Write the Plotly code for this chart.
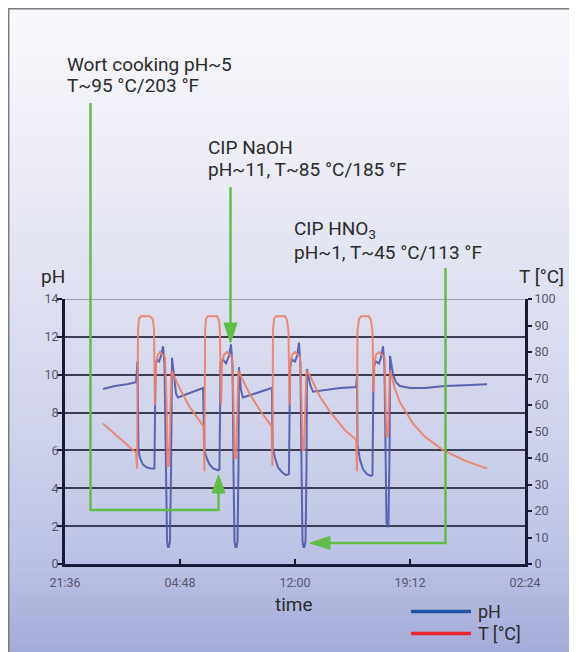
import plotly.graph_objects as go

# ---------------- data ----------------
tick_hours = [0, 7.2, 14.4, 21.6, 28.8]          # hours after 21:36
tick_labels = ["21:36", "04:48", "12:00", "19:12", "02:24"]
ph_ticks = [0, 2, 4, 6, 8, 10, 12, 14]
temp_ticks = [0, 10, 20, 30, 40, 50, 60, 70, 80, 90, 100]

ph_hours = [2.38, 3.13, 3.88, 4.45, 4.54, 4.60, 4.70, 4.88, 5.13, 5.38, 5.60,
            5.67, 5.76, 5.89, 6.01, 6.14, 6.23, 6.32, 6.39, 6.45, 6.51, 6.57,
            6.64, 6.70, 6.82, 6.95, 7.07, 7.51, 8.14, 8.64,
            8.73, 8.83, 9.02, 9.27, 9.58, 9.67, 9.74, 9.89, 10.08, 10.27, 10.39,
            10.49, 10.55, 10.61, 10.67, 10.74, 10.80, 10.86, 10.89, 11.02, 11.14,
            11.90, 12.52, 12.96,
            12.99, 13.15, 13.34, 13.59, 13.84, 14.02, 14.09, 14.21, 14.40, 14.53,
            14.65, 14.74, 14.81, 14.87, 14.93, 14.99, 15.06, 15.12, 15.15, 15.34,
            15.53, 16.28, 17.22, 18.22, 18.28,
            18.31, 18.47, 18.66, 18.91, 19.16, 19.25, 19.32, 19.47, 19.66, 19.78,
            19.91, 20.00, 20.07, 20.13, 20.19, 20.25, 20.32, 20.35, 20.54, 20.72,
            20.97, 21.60, 22.54, 23.79, 25.04, 26.42]
ph_values = [9.25, 9.40, 9.50, 9.60, 10.7, 6.0, 5.6, 5.25, 5.10, 5.05, 5.05,
             10.5, 10.8, 10.7, 11.0, 11.5, 10.5, 5.0, 1.2, 0.9, 0.9, 1.2,
             5.0, 10.9, 10.0, 9.0, 8.8, 8.95, 9.15, 9.30,
             6.0, 5.7, 5.3, 5.05, 4.95, 5.0, 10.6, 10.8, 10.6, 11.0, 11.6,
             10.5, 5.0, 1.2, 0.9, 0.9, 1.2, 5.0, 10.4, 9.2, 8.8,
             9.0, 9.2, 9.3,
             6.2, 5.6, 5.1, 4.85, 4.7, 4.75, 10.4, 10.8, 10.7, 11.0,
             11.7, 10.5, 5.0, 1.2, 0.9, 0.9, 1.2, 5.0, 10.3, 9.5,
             9.1, 9.2, 9.3, 9.35, 9.9,
             6.3, 5.5, 5.0, 4.75, 4.65, 4.7, 10.4, 10.7, 10.6, 10.9,
             11.5, 10.5, 6.0, 2.2, 1.95, 2.0, 6.0, 11.0, 10.0, 9.6,
             9.4, 9.3, 9.3, 9.4, 9.45, 9.5]

temp_hours = [2.38, 3.13, 3.82, 4.45, 4.51, 4.57, 4.63, 4.76, 5.32, 5.48, 5.57,
              5.63, 5.70, 5.82, 5.95, 6.14, 6.26, 6.36, 6.42, 6.51, 6.61, 6.67,
              6.89, 7.20, 7.83, 8.45, 8.67,
              8.73, 8.77, 8.83, 8.95, 9.52, 9.64, 9.70, 9.77, 9.83, 9.96, 10.14,
              10.33, 10.46, 10.55, 10.61, 10.71, 10.80, 10.86, 11.08, 11.58, 12.21,
              12.83, 12.93,
              12.99, 13.02, 13.09, 13.21, 13.78, 13.90, 13.99, 14.06, 14.12, 14.21,
              14.40, 14.59, 14.71, 14.81, 14.87, 14.96, 15.06, 15.12, 15.34, 15.97,
              16.59, 17.53, 18.22,
              18.28, 18.31, 18.41, 18.53, 19.03, 19.16, 19.25, 19.32, 19.38, 19.47,
              19.66, 19.85, 20.00, 20.07, 20.13, 20.22, 20.29, 20.35, 20.66, 20.97,
              21.79, 22.54, 23.67, 25.04, 26.42]
temp_values = [53, 49, 45.5, 42, 36, 88, 92.5, 93.5, 93.5, 92.5, 89,
               60, 76, 79, 80, 79, 78, 60, 37, 37, 60, 73,
               70, 66, 59, 53.5, 52,
               35, 88, 92.5, 93.5, 93.5, 92, 88, 60, 76, 79, 80,
               79, 78, 60, 40, 40, 60, 73, 70, 64, 58,
               53, 52,
               37, 88, 92.5, 93.5, 93.5, 92, 88, 60, 76, 79,
               80, 79, 78, 60, 43, 43, 60, 73, 71, 63,
               57.5, 50.5, 47,
               35, 88, 92.5, 93.5, 93.5, 92, 88, 65, 76, 79,
               80, 79, 78, 60, 48, 48, 60, 73, 66, 61,
               53, 48, 43, 39, 36]

# ---------------- styling / layout helpers ----------------
OFF = 8                       # page body margin
W, H = 577 - OFF, 652 - OFF   # figure size
L, R = 65 - OFF, 52           # margins in figure pixels
T, B = 299 - OFF, 88
PW = W - L - R
PHh = H - T - B

def px(x):          # page pixel x -> paper fraction
    return (x - OFF - L) / PW

def py(y):          # page pixel y -> paper fraction
    return (H - B - (y - OFF)) / PHh

BLUE = "rgba(78,88,172,0.9)"
RED = "rgba(235,128,105,0.9)"
AXIS = "#1a1a36"
GRID = "#3c3c52"
GREEN = "#62bd48"
TXT = "#2b2b2b"
FONT = "Roboto"

fig = go.Figure()
fig.add_trace(go.Scatter(x=ph_hours, y=ph_values, mode="lines", yaxis="y",
                         line=dict(color=BLUE, width=2), showlegend=False,
                         name="pH"))
fig.add_trace(go.Scatter(x=temp_hours, y=temp_values, mode="lines", yaxis="y2",
                         line=dict(color=RED, width=2), showlegend=False,
                         name="T [°C]"))

shapes = []
# gradient background
stops = [(8, (248, 248, 252)), (150, (238, 238, 247)), (300, (222, 224, 240)),
         (450, (205, 209, 234)), (560, (188, 194, 228)), (652, (163, 171, 216))]

def col_at(y):
    for (y0, c0), (y1, c1) in zip(stops[:-1], stops[1:]):
        if y0 <= y <= y1:
            f = (y - y0) / (y1 - y0)
            return tuple(round(a + (b - a) * f) for a, b in zip(c0, c1))
    return stops[-1][1]

step = 6
y = 8
while y < 652:
    y2 = min(y + step, 652)
    c = col_at((y + y2) / 2)
    shapes.append(dict(type="rect", xref="paper", yref="paper", layer="below",
                       x0=px(7), x1=px(580), y0=py(y2 + 0.5), y1=py(y),
                       line=dict(width=0), fillcolor="rgb(%d,%d,%d)" % c))
    y = y2
# frame
shapes.append(dict(type="line", xref="paper", yref="paper", layer="below",
                   x0=px(8.7), x1=px(8.7), y0=py(8), y1=py(655),
                   line=dict(color="#7a7a7a", width=1.5)))
shapes.append(dict(type="line", xref="paper", yref="paper", layer="below",
                   x0=px(8), x1=px(580), y0=py(8.7), y1=py(8.7),
                   line=dict(color="#7a7a7a", width=1.5)))
# light top grid line at pH 14
shapes.append(dict(type="line", xref="paper", yref="y", layer="below",
                   x0=0, x1=1, y0=14, y1=14,
                   line=dict(color="#9d9db2", width=2)))

# green callout connectors
def path(points, close=False):
    s = "M " + " L ".join("%.5f,%.5f" % (px(a), py(b)) for a, b in points)
    return s + (" Z" if close else "")

shapes += [
    dict(type="path", xref="paper", yref="paper",
         path=path([(90.5, 103), (90.5, 510), (218.5, 510), (218.5, 492)]),
         line=dict(color=GREEN, width=2.5)),
    dict(type="path", xref="paper", yref="paper",
         path=path([(212, 493), (225, 493), (218.5, 475)], True),
         fillcolor=GREEN, line=dict(color=GREEN, width=1)),
    dict(type="path", xref="paper", yref="paper",
         path=path([(230.5, 187), (230.5, 324)]),
         line=dict(color=GREEN, width=2.5)),
    dict(type="path", xref="paper", yref="paper",
         path=path([(224, 323), (237, 323), (230.5, 343)], True),
         fillcolor=GREEN, line=dict(color=GREEN, width=1)),
    dict(type="path", xref="paper", yref="paper",
         path=path([(445.5, 268), (445.5, 543), (329, 543)]),
         line=dict(color=GREEN, width=2.5)),
    dict(type="path", xref="paper", yref="paper",
         path=path([(330, 536.5), (330, 549.5), (310, 543)], True),
         fillcolor=GREEN, line=dict(color=GREEN, width=1)),
]
# legend samples
shapes += [
    dict(type="line", xref="paper", yref="paper", x0=px(411), x1=px(471),
         y0=py(611.5), y1=py(611.5), line=dict(color="#1f56a8", width=3.5)),
    dict(type="line", xref="paper", yref="paper", x0=px(411), x1=px(471),
         y0=py(633.5), y1=py(633.5), line=dict(color="#e8262f", width=3.5)),
]

def note(text, x, yc, size=19, anchor="left"):
    return dict(text=text, xref="paper", yref="paper", x=px(x), y=py(yc),
                xanchor=anchor, yanchor="middle", showarrow=False,
                font=dict(family=FONT, size=size, color=TXT))

annotations = [
    note("Wort cooking pH~5", 65, 64),
    note("T~95 °C/203 °F", 65, 85),
    note("CIP NaOH", 206, 148),
    note("pH~11, T~85 °C/185 °F", 206, 169),
    note("CIP HNO<sub>3</sub>", 292, 229.5),
    note("pH~1, T~45 °C/113 °F", 292, 252.5),
    note("pH", 39, 276),
    note("T [°C]", 517, 276),
    note("time", 294, 604, anchor="center"),
    note("pH", 476, 611, size=18),
    note("T [°C]", 476, 633, size=18),
]

tickfont = dict(family=FONT, size=12.5, color="#56566c")

fig.update_layout(
    width=W, height=H, autosize=False,
    margin=dict(l=L, r=R, t=T, b=B, pad=0),
    paper_bgcolor="white", plot_bgcolor="rgba(0,0,0,0)",
    shapes=shapes, annotations=annotations,
    xaxis=dict(range=[0, 28.8], tickvals=tick_hours, ticktext=tick_labels,
               showgrid=False, zeroline=False, showline=True, linecolor=AXIS,
               linewidth=3, ticks="inside", ticklen=5, tickwidth=2,
               tickcolor=AXIS, tickfont=tickfont, ticklabelstandoff=5),
    yaxis=dict(range=[0, 14], tickvals=ph_ticks, showgrid=True,
               gridcolor=GRID, gridwidth=1.5, zeroline=False, showline=True,
               linecolor=AXIS, linewidth=3, ticks="outside", ticklen=5,
               tickwidth=2, tickcolor=AXIS, tickfont=tickfont,
               ticklabelstandoff=-4),
    yaxis2=dict(range=[0, 100], tickvals=temp_ticks, overlaying="y",
                side="right", showgrid=False, zeroline=False, showline=True,
                linecolor=AXIS, linewidth=3, ticks="outside", ticklen=4,
                tickwidth=2, tickcolor=AXIS, tickfont=tickfont),
    yaxis3=dict(range=[0, 100], tickvals=temp_ticks, overlaying="y",
                side="right", showgrid=False, zeroline=False, showline=False,
                ticks="inside", ticklen=4, tickwidth=2, tickcolor=AXIS,
                showticklabels=False),
)

fig.write_html("out.html")
